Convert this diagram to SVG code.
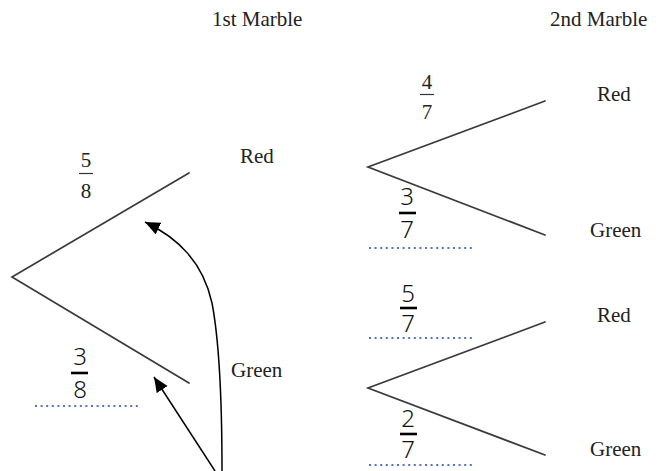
<svg xmlns="http://www.w3.org/2000/svg" width="661" height="471" viewBox="0 0 661 471">
  <style>
    .lbl { font-family: "Liberation Serif", "Times New Roman", serif; font-size: 21px; fill: #222; }
    .typed { font-family: "Liberation Serif", "Times New Roman", serif; font-size: 21px; fill: #222; text-anchor: middle; }
    .hand { font-family: "Noto Sans", "DejaVu Sans", sans-serif; font-weight: 300; font-size: 24px; fill: #111; text-anchor: middle; }
    .branch { stroke: #3a3a3a; stroke-width: 1.7; fill: none; stroke-linecap: round; }
    .tbar { stroke: #333; stroke-width: 1.2; }
    .hbar { stroke: #000; stroke-width: 2.6; }
    .dots { stroke: #5573b8; stroke-width: 2; stroke-dasharray: 2 3.6; fill: none; }
    .arrow { stroke: #000; stroke-width: 1.5; fill: none; }
  </style>
  <defs>
    <marker id="head" markerUnits="userSpaceOnUse" markerWidth="16" markerHeight="14" refX="15" refY="6.5" orient="auto">
      <path d="M0,0 L15,6.5 L0,13 Z" fill="#000"/>
    </marker>
  </defs>
  <rect width="661" height="471" fill="#fff"/>

  <g id="headers">
    <text class="lbl" x="212" y="26">1st Marble</text>
    <text class="lbl" x="550" y="26">2nd Marble</text>
  </g>

  <g id="connectors">
    <polyline class="branch" points="189,173 12,277 189,383"/>
    <polyline class="branch" points="545,101 368,167 545,235"/>
    <polyline class="branch" points="545,322 368,388 545,455"/>
    <path class="arrow" d="M222,471 C222,400 220,345 212,303 C203,262 178,238 145,222" marker-end="url(#head)"/>
    <line class="arrow" x1="215" y1="471" x2="154" y2="377" marker-end="url(#head)"/>
  </g>

  <g id="node-first-red">
    <text class="lbl" x="240" y="163">Red</text>
    <text class="typed" x="86" y="167">5</text>
    <line class="tbar" x1="79" y1="173.5" x2="93" y2="173.5"/>
    <text class="typed" x="86" y="198">8</text>
  </g>

  <g id="node-first-green">
    <text class="lbl" x="231" y="377">Green</text>
    <text class="hand" x="80" y="365">3</text>
    <line class="hbar" x1="71" y1="373" x2="88" y2="373"/>
    <text class="hand" x="80" y="398">8</text>
    <line class="dots" x1="35" y1="406" x2="138" y2="406"/>
  </g>

  <g id="node-red-red">
    <text class="lbl" x="597" y="101">Red</text>
    <text class="typed" x="427" y="89">4</text>
    <line class="tbar" x1="420" y1="94.5" x2="434" y2="94.5"/>
    <text class="typed" x="427" y="119">7</text>
  </g>

  <g id="node-red-green">
    <text class="lbl" x="590" y="237">Green</text>
    <text class="hand" x="407" y="205">3</text>
    <line class="hbar" x1="399" y1="213" x2="416" y2="213"/>
    <text class="hand" x="407" y="238">7</text>
    <line class="dots" x1="369" y1="248" x2="472" y2="248"/>
  </g>

  <g id="node-green-red">
    <text class="lbl" x="597" y="322">Red</text>
    <text class="hand" x="408" y="302">5</text>
    <line class="hbar" x1="400" y1="308" x2="417" y2="308"/>
    <text class="hand" x="408" y="332">7</text>
    <line class="dots" x1="369" y1="338" x2="472" y2="338"/>
  </g>

  <g id="node-green-green">
    <text class="lbl" x="590" y="456">Green</text>
    <text class="hand" x="408" y="427">2</text>
    <line class="hbar" x1="400" y1="434" x2="417" y2="434"/>
    <text class="hand" x="408" y="458">7</text>
    <line class="dots" x1="369" y1="465" x2="472" y2="465"/>
  </g>
</svg>
